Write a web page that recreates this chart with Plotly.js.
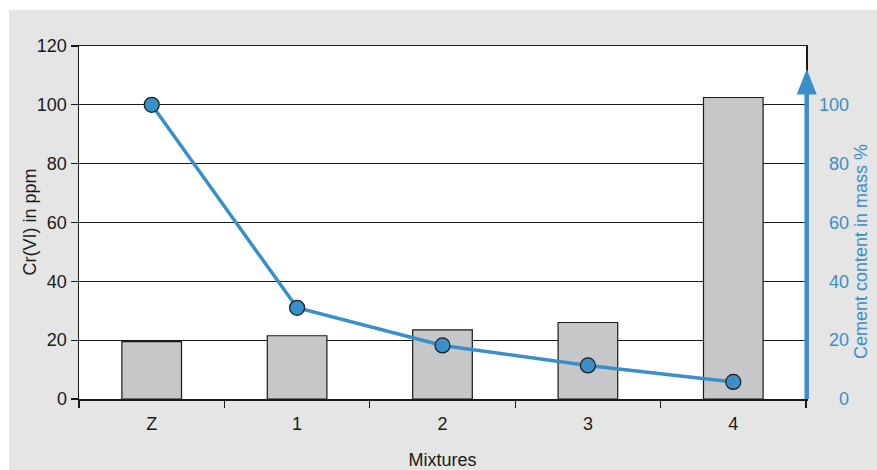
<!DOCTYPE html>
<html>
<head>
<meta charset="utf-8">
<script src="https://cdn.plot.ly/plotly-3.0.1.min.js"></script>
<style>html,body{margin:0;padding:0;background:#fff}#chart{width:877px;height:470px}</style>
</head>
<body>
<div id="chart"></div>
<script>
const categories = ["Z", "1", "2", "3", "4"];
const crVI = [19.5, 21.5, 23.5, 26, 102.5];
const cementContent = [100, 31, 18.2, 11.4, 5.8];
const leftTicks = [0, 20, 40, 60, 80, 100, 120];
const rightTicks = [0, 20, 40, 60, 80, 100];
const rightTickText = ["\u2007\u20070", "\u200720", "\u200740", "\u200760", "\u200780", "100"];
const leftTitle = "Cr(VI) in ppm";
const rightTitle = "Cement content in mass %";
const xTitle = "Mixtures";

const BLUE = "#3a8fc9";
const DARK = "#1a1a1a";
const FONT = "Liberation Sans, Arial, sans-serif";

const traces = [
  {
    type: "bar", x: categories, y: crVI, width: 0.41,
    marker: {color: "#c6c7c9", line: {color: DARK, width: 1.2}},
    hoverinfo: "skip"
  },
  {
    type: "scatter", mode: "lines+markers", x: categories, y: cementContent, yaxis: "y2",
    line: {color: BLUE, width: 3.5},
    marker: {color: BLUE, size: 15, line: {color: DARK, width: 1.2}},
    hoverinfo: "skip"
  }
];

const pxX = v => v / 727, pxY = v => v / 353;

const layout = {
  width: 877, height: 470,
  margin: {l: 79, r: 71, t: 46, b: 71},
  paper_bgcolor: "#e4e5e4",
  plot_bgcolor: "#ffffff",
  showlegend: false,
  font: {family: FONT, size: 18, color: DARK},
  xaxis: {
    type: "category", range: [-0.5, 4.5],
    showline: true, linecolor: DARK, linewidth: 1.5, mirror: true,
    ticks: "outside", tickson: "boundaries", ticklen: 7, tickcolor: DARK, tickwidth: 1.2,
    ticklabelstandoff: 8,
    showgrid: false, tickfont: {family: FONT, size: 18, color: DARK},
    title: {text: xTitle, font: {family: FONT, size: 18, color: DARK}, standoff: 20}
  },
  yaxis: {
    range: [0, 120], tickvals: leftTicks,
    showline: true, linecolor: DARK, linewidth: 1.5, mirror: true,
    ticks: "outside", ticklen: 7, tickcolor: DARK, tickwidth: 1.2,
    showgrid: true, gridcolor: DARK, gridwidth: 1.2, zeroline: false,
    tickfont: {family: FONT, size: 18, color: DARK}
  },
  yaxis2: {
    overlaying: "y", side: "right", range: [0, 120],
    tickvals: rightTicks, ticktext: rightTickText,
    showline: false, showgrid: false, zeroline: false,
    ticks: "", ticklabelstandoff: 12,
    tickfont: {family: FONT, size: 18, color: BLUE}
  },
  annotations: [
    {text: leftTitle, xref: "paper", yref: "paper", x: pxX(29 - 79), y: 0.5,
     textangle: -90, showarrow: false, xanchor: "center", yanchor: "middle",
     font: {family: FONT, size: 18, color: DARK}},
    {text: rightTitle, xref: "paper", yref: "paper", x: 1 + pxX(861 - 806), y: pxY(399 - 252),
     textangle: -90, showarrow: false, xanchor: "center", yanchor: "middle",
     font: {family: FONT, size: 18, color: BLUE}}
  ],
  shapes: [
    {type: "rect", xref: "paper", yref: "paper", x0: -0.2, x1: pxX(9 - 79), y0: -0.3, y1: 1.3,
     fillcolor: "#ffffff", line: {width: 0}, layer: "above"},
    {type: "rect", xref: "paper", yref: "paper", x0: -0.2, x1: 1.2, y0: pxY(399 - 10), y1: 1.3,
     fillcolor: "#ffffff", line: {width: 0}, layer: "above"},
    {type: "line", xref: "paper", yref: "y2", x0: 1.001, x1: 1.001, y0: 0, y1: 104,
     line: {color: BLUE, width: 4.5}, layer: "above"},
    {type: "path", xref: "paper", yref: "y2",
     path: "M" + (1.001 - pxX(10)) + ",103.5 L" + (1.001 + pxX(10)) + ",103.5 L1.001,112.2 Z",
     fillcolor: BLUE, line: {width: 0}, layer: "above"}
  ]
};

Plotly.newPlot("chart", traces, layout, {displayModeBar: false, staticPlot: true});
</script>
</body>
</html>
